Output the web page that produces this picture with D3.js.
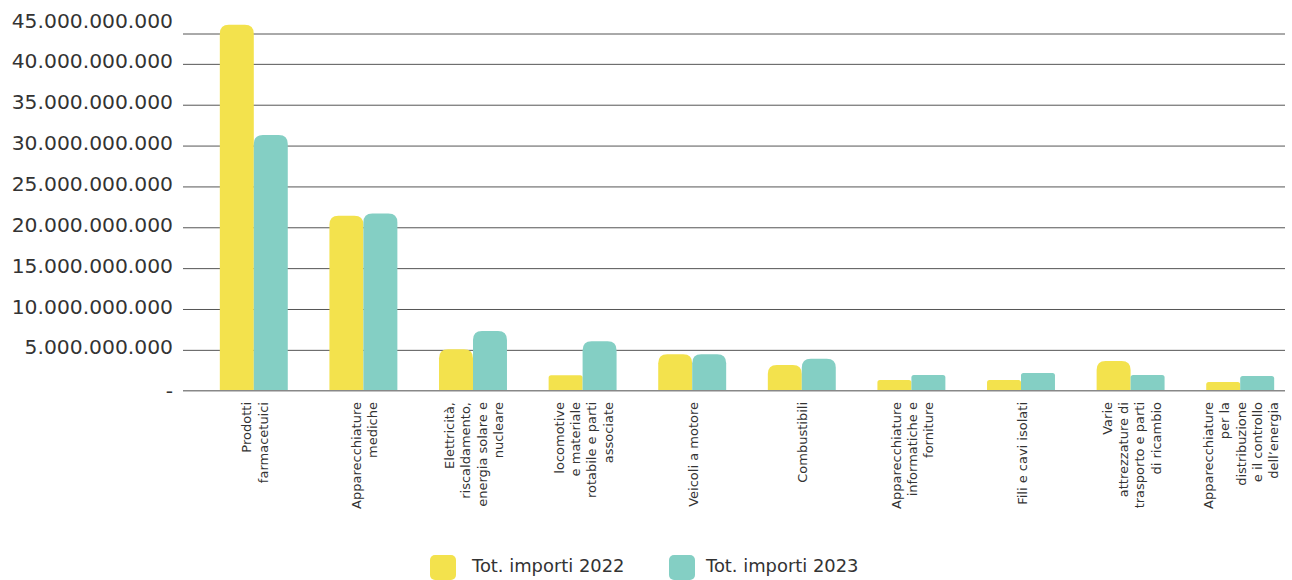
<!DOCTYPE html>
<html>
<head>
<meta charset="utf-8">
<script src="https://cdn.jsdelivr.net/npm/d3@7"></script>
<style>
  body { margin: 0; background: #fff; }
  text { font-family: "DejaVu Sans", sans-serif; fill: #333; }
</style>
</head>
<body>
<div class="container"></div>
<script>
// Data
const categories = [
    "Prodotti\nfarmacetuici",
    "Apparecchiature\nmediche",
    "Elettricità,\nriscaldamento,\nenergia solare e\nnucleare",
    "locomotive\ne materiale\nrotabile e parti\nassociate",
    "Veicoli a motore",
    "Combustibili",
    "Apparecchiature\ninformatiche e\nforniture",
    "Fili e cavi isolati",
    "Varie\nattrezzature di\ntrasporto e parti\ndi ricambio",
    "Apparecchiature\nper la\ndistribuzione\ne il controllo\ndell’energia"
]
const series = ["Tot. importi 2022", "Tot. importi 2023"]
const values2022 = [44.8e9, 21.4e9, 5.07e9, 1.9e9, 4.47e9, 3.15e9, 1.31e9, 1.31e9, 3.64e9, 1.07e9]
const values2023 = [31.3e9, 21.7e9, 7.3e9, 6.06e9, 4.47e9, 3.9e9, 1.93e9, 2.17e9, 1.93e9, 1.8e9]
const yTicks = [0, 5e9, 10e9, 15e9, 20e9, 25e9, 30e9, 35e9, 40e9, 45e9]
const colors = ["#F3E24D", "#84CFC4"]

const data = categories.map((c, i) => ({ cat: c, vals: [values2022[i], values2023[i]] }))

// SVG
const width = 1292
const height = 580
const gridLeft = 183
const gridRight = 1285
const plotTop = 34

const svg = d3.select(".container")
    .append("svg")
    .attr("width", width)
    .attr("height", height)

// Scales
const xScale = d3.scaleBand()
    .domain(categories)
    .range([199, 1295])
    .paddingInner(0.38)
    .paddingOuter(0.19)

const xSub = d3.scaleBand()
    .domain(series)
    .range([0, xScale.bandwidth()])

const yScale = d3.scaleLinear()
    .domain([0, 45e9])
    .range([390.7, 23])

const locale = d3.formatLocale({ decimal: ",", thousands: ".", grouping: [3], currency: ["", ""] })
const fmt = locale.format(",.0f")

// Grid lines
const yAxis = d3.axisLeft(yScale)
    .tickValues(yTicks)
    .tickSize(0)
    .tickPadding(10)
    .tickFormat(d => d === 0 ? "-" : fmt(d))

const y = svg.append("g")
    .attr("class", "axis y-axis")
    .attr("transform", `translate(${gridLeft}, 0)`)
    .call(yAxis)

y.select(".domain").remove()
y.selectAll(".tick text")
    .attr("font-size", 20.3)
    .attr("font-family", "DejaVu Sans")
    .attr("fill", "#333")
    .attr("dy", d => d === 0 ? "0.35em" : "0.2em")

y.selectAll(".tick")
    .filter(d => d > 0 && d < 45e9)
    .append("line")
    .attr("x1", 0)
    .attr("x2", gridRight - gridLeft)
    .attr("stroke", "#555")
    .attr("stroke-width", 1)

// top frame line
svg.append("line")
    .attr("x1", gridLeft)
    .attr("x2", gridRight)
    .attr("y1", plotTop)
    .attr("y2", plotTop)
    .attr("stroke", "#555")
    .attr("stroke-width", 1)

// Bars
function roundedTop(x, yTop, w, h, r) {
    r = Math.min(r, h, w / 2)
    return `M${x},${yTop + h}V${yTop + r}Q${x},${yTop} ${x + r},${yTop}H${x + w - r}Q${x + w},${yTop} ${x + w},${yTop + r}V${yTop + h}Z`
}

const groups = svg.selectAll(".group")
    .data(data)
    .enter()
    .append("g")
    .attr("transform", d => `translate(${xScale(d.cat)}, 0)`)

groups.selectAll("path")
    .data(d => d.vals.map((v, i) => ({ key: series[i], v: v, i: i })))
    .enter()
    .append("path")
    .attr("fill", d => colors[d.i])
    .attr("d", d => {
        const h = yScale(0) - yScale(d.v)
        const r = h > 25 ? 9 : 2.5
        return roundedTop(xSub(d.key), yScale(d.v), xSub.bandwidth(), h, r)
    })

// Baseline
svg.append("line")
    .attr("x1", gridLeft)
    .attr("x2", gridRight)
    .attr("y1", yScale(0))
    .attr("y2", yScale(0))
    .attr("stroke", "#888")
    .attr("stroke-width", 1.5)

// Category labels
const lineGap = 16.3
groups.each(function(d) {
    const lines = d.cat.split("\n")
    const cx = xScale.bandwidth() / 2 + 1
    const g = d3.select(this)
    lines.forEach((ln, i) => {
        const lx = cx + (i - (lines.length - 1) / 2) * lineGap
        g.append("text")
            .text(ln)
            .attr("transform", `translate(${lx}, 402) rotate(-90)`)
            .attr("text-anchor", "end")
            .attr("dy", "0.35em")
            .attr("font-size", 13)
    })
})

// Legend
const legendSwatch = [430, 669]
const legendText = [472, 706]

const legend = svg.append("g")
    .selectAll("g")
    .data(series)
    .enter()
    .append("g")

legend.append("rect")
    .attr("x", (d, i) => legendSwatch[i])
    .attr("y", 555)
    .attr("width", 26)
    .attr("height", 25)
    .attr("rx", 5)
    .attr("fill", (d, i) => colors[i])

legend.append("text")
    .text(d => d)
    .attr("x", (d, i) => legendText[i])
    .attr("y", 566)
    .attr("dy", "0.35em")
    .attr("font-size", 17.9)
</script>
</body>
</html>
